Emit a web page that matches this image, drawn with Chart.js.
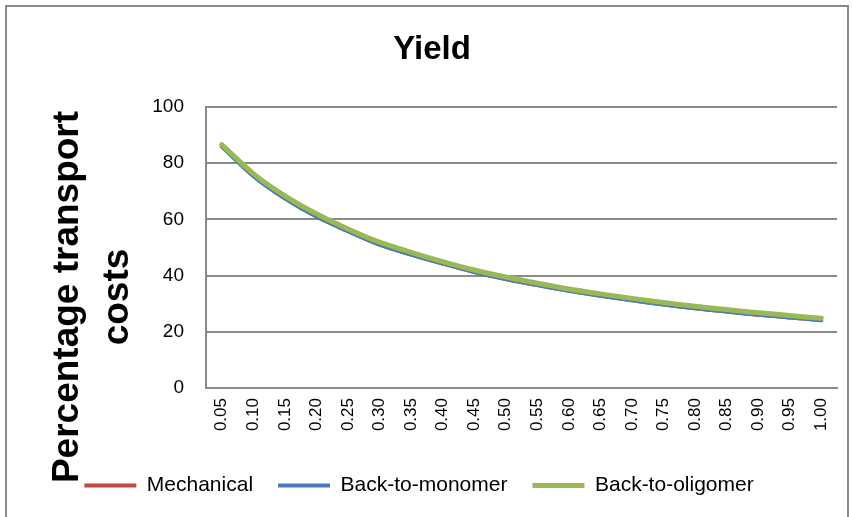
<!DOCTYPE html>
<html>
<head>
<meta charset="utf-8">
<script src="https://cdn.jsdelivr.net/npm/chart.js@4"></script>
<style>
    body { margin: 0; background: #fff; }
    #wrap { width: 852px; height: 517px; }
</style>
</head>
<body>
<div id="wrap"><canvas id="yieldChart" width="852" height="517"></canvas></div>
<script>
const yieldLabels = ['0.05', '0.10', '0.15', '0.20', '0.25', '0.30', '0.35', '0.40', '0.45', '0.50',
    '0.55', '0.60', '0.65', '0.70', '0.75', '0.80', '0.85', '0.90', '0.95', '1.00'];

const mechanical = [86, 75.5, 67.5, 61, 55.8, 51, 47.5, 44.3, 41.3, 38.8,
    36.6, 34.6, 32.8, 31.2, 29.7, 28.4, 27.2, 26.1, 25.1, 24.1];
const backToMonomer = [86, 75.5, 67.5, 61, 55.8, 51, 47.5, 44.3, 41.3, 38.8,
    36.6, 34.6, 32.8, 31.2, 29.7, 28.4, 27.2, 26.1, 25.1, 24.1];
const backToOligomer = [86.6, 76.3, 68.4, 62, 56.6, 51.9, 48.3, 45, 42, 39.5,
    37.3, 35.2, 33.5, 31.9, 30.4, 29.1, 27.9, 26.8, 25.8, 24.8];

const yTicks = [0, 20, 40, 60, 80, 100];
const chartTitle = 'Yield';
const yTitleLines = ['Percentage transport', 'costs'];

const font = "'Liberation Sans', Arial, sans-serif";

// frame, chart title and rotated y axis title
const extras = {
    id: 'extras',
    beforeDraw(chart) {
        const ctx = chart.ctx;
        ctx.save();
        ctx.strokeStyle = '#8a8a8a';
        ctx.lineWidth = 2;
        ctx.beginPath();
        ctx.moveTo(6, 540);
        ctx.lineTo(6, 6);
        ctx.lineTo(848, 6);
        ctx.lineTo(848, 540);
        ctx.stroke();
        ctx.restore();
    },
    afterDraw(chart) {
        const ctx = chart.ctx;
        ctx.save();
        ctx.fillStyle = '#000';
        ctx.textAlign = 'center';
        ctx.textBaseline = 'middle';
        ctx.font = 'bold 33px ' + font;
        ctx.fillText(chartTitle, 432, 50);
        ctx.font = 'bold 37px ' + font;
        ctx.translate(0, 297);
        ctx.rotate(-Math.PI / 2);
        ctx.fillText(yTitleLines[0], 0, 68);
        ctx.fillText(yTitleLines[1], 0, 118);
        ctx.restore();
    }
};

const ctx = document.getElementById('yieldChart');

new Chart(ctx, {
    type: 'line',
    data: {
        labels: yieldLabels,
        datasets: [
            {
                label: 'Mechanical',
                data: mechanical,
                borderColor: '#be4b48',
                backgroundColor: '#be4b48',
                borderWidth: 4,
                order: 3
            },
            {
                label: 'Back-to-monomer',
                data: backToMonomer,
                borderColor: '#4a7ebb',
                backgroundColor: '#4a7ebb',
                borderWidth: 4,
                order: 2
            },
            {
                label: 'Back-to-oligomer',
                data: backToOligomer,
                borderColor: '#98b954',
                backgroundColor: '#98b954',
                borderWidth: 5,
                order: 1
            }
        ]
    },
    options: {
        responsive: false,
        animation: false,
        layout: { padding: { left: 0, right: 14, top: 107, bottom: 11 } },
        elements: {
            point: { radius: 0 },
            line: { tension: 0.3, borderCapStyle: 'round' }
        },
        plugins: {
            title: { display: false },
            legend: {
                position: 'bottom',
                labels: {
                    color: '#000',
                    font: { family: font, size: 21 },
                    usePointStyle: true,
                    pointStyle: 'line',
                    pointStyleWidth: 52,
                    boxHeight: 21,
                    padding: 25,
                    sort: (a, b) => a.datasetIndex - b.datasetIndex
                }
            },
            tooltip: { enabled: false }
        },
        scales: {
            x: {
                offset: true,
                grid: { display: false, drawTicks: false },
                border: { color: '#8a8a8a', width: 2 },
                ticks: {
                    color: '#000',
                    font: { family: font, size: 17 },
                    minRotation: 90,
                    maxRotation: 90,
                    padding: 10,
                    autoSkip: false
                },
                afterFit(scale) {
                    const legendH = scale.chart.legend ? scale.chart.legend.height : 72;
                    scale.height = 517 - 11 - legendH - 388;
                }
            },
            y: {
                min: 0,
                max: 100,
                afterBuildTicks(scale) {
                    scale.ticks = yTicks.map(v => ({ value: v }));
                },
                grid: { color: '#8a8a8a', lineWidth: 2, drawTicks: false },
                border: { color: '#8a8a8a', width: 2 },
                ticks: {
                    color: '#000',
                    font: { family: font, size: 19 },
                    padding: 22
                },
                afterFit(scale) {
                    scale.width = 206;
                }
            }
        }
    },
    plugins: [extras]
});
</script>
</body>
</html>
